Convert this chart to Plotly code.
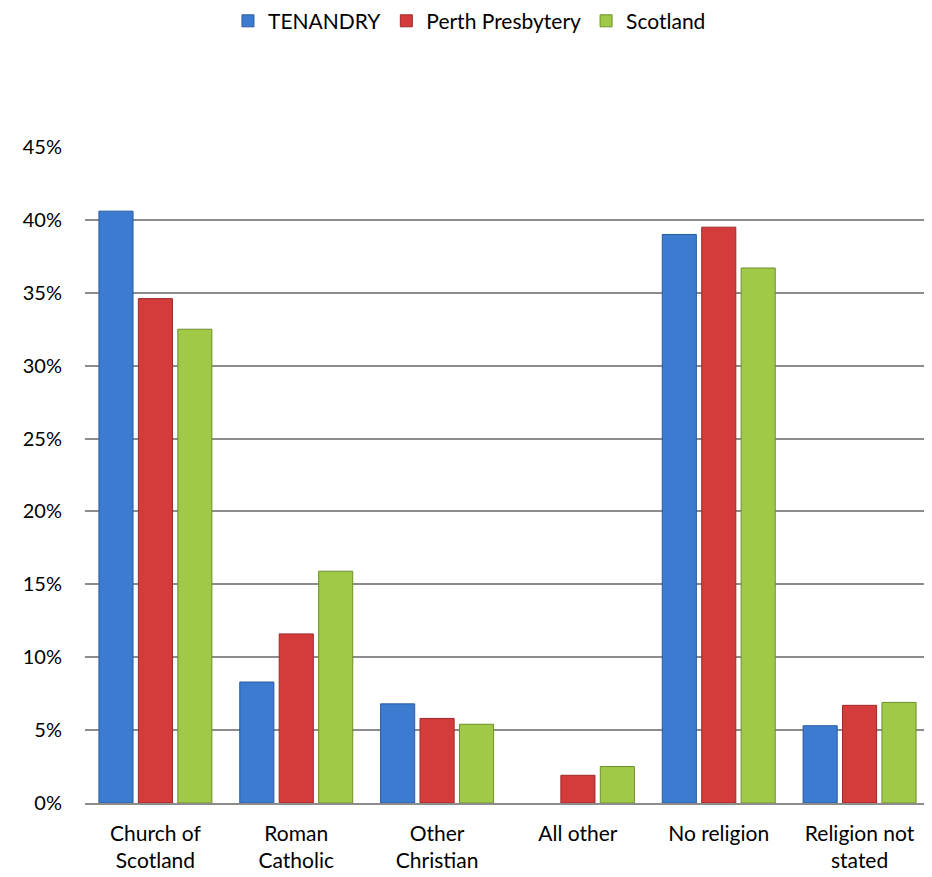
import plotly.graph_objects as go

categories = ["Church of<br>Scotland", "Roman<br>Catholic", "Other<br>Christian",
              "All other", "No religion", "Religion not<br>stated"]
tenandry = [40.6, 8.3, 6.8, 0.0, 39.0, 5.3]
perth = [34.6, 11.6, 5.8, 1.9, 39.5, 6.7]
scotland = [32.5, 15.9, 5.4, 2.5, 36.7, 6.9]
tick_vals = [0, 5, 10, 15, 20, 25, 30, 35, 40, 45]
tick_text = ["0%", "5%", "10%", "15%", "20%", "25%", "30%", "35%", "40%", "45%"]

font_family = "Lato, Open Sans, sans-serif"

fig = go.Figure()
series = [
    ("TENANDRY", tenandry, "#3C7CD0", "#2A5A9E"),
    ("Perth Presbytery", perth, "#D43B3B", "#9E2A2A"),
    ("Scotland", scotland, "#A0C947", "#6E8F2C"),
]
for name, vals, col, edge in series:
    widths = [1 if v > 0 else 0 for v in vals]
    fig.add_trace(go.Bar(
        name=name, x=categories, y=vals,
        marker=dict(color=col, line=dict(color=edge, width=widths)),
    ))

fig.update_layout(
    width=932, height=877,
    paper_bgcolor="white", plot_bgcolor="white",
    margin=dict(l=77, r=10, t=139, b=82, autoexpand=False),
    barmode="group", bargap=0.16, bargroupgap=0.135,
    font=dict(family=font_family, size=19, color="#000000"),
    legend=dict(orientation="h", x=0.455, xanchor="center", xref="paper",
                y=0.985, yref="container", yanchor="middle",
                font=dict(size=21), traceorder="normal", itemwidth=30),
    showlegend=True,
)
fig.update_yaxes(range=[0, 45], tickvals=tick_vals, ticktext=tick_text,
                 showgrid=True, gridcolor="#8C8C8C", gridwidth=1.8,
                 zeroline=False, showline=False, ticks="", ticklabelstandoff=22,
                 tickfont=dict(size=20), automargin=False)
fig.update_xaxes(showline=True, linecolor="#8C8C8C", linewidth=1.8,
                 ticks="", tickfont=dict(size=21), ticklabelstandoff=11,
                 automargin=False)

fig.write_html("out.html")
